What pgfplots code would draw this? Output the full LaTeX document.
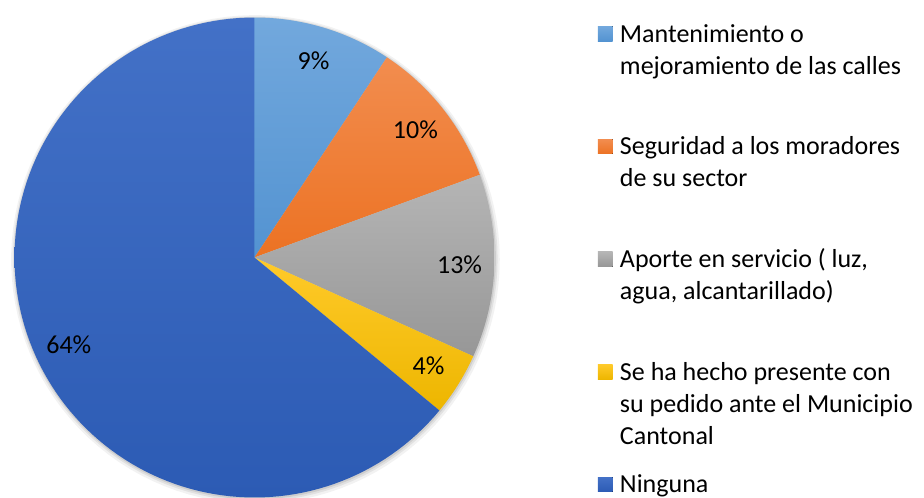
\documentclass[border=0pt]{standalone}
\usepackage{fontspec}
\setmainfont{Carlito}
\usepackage{pgfplots}
\pgfplotsset{compat=1.18}

\definecolor{lbT}{HTML}{72A8DD}\definecolor{lbB}{HTML}{5393D1}
\definecolor{orT}{HTML}{F28D4F}\definecolor{orB}{HTML}{EC7223}
\definecolor{grT}{HTML}{B5B5B5}\definecolor{grB}{HTML}{979797}
\definecolor{yeT}{HTML}{FFCA2A}\definecolor{yeB}{HTML}{EDB600}
\definecolor{blT}{HTML}{4371C7}\definecolor{blB}{HTML}{2C5BB4}

\newcommand\pfont{\fontsize{26bp}{32bp}\selectfont}
\gdef\cum{0}
% #1 value (percent), #2 top colour, #3 bottom colour, #4 label
\newcommand\pieslice[4]{%
  \pgfmathsetmacro\aS{90-3.6*(\cum)}%
  \pgfmathsetmacro\aE{90-3.6*(\cum+#1)}%
  \pgfmathsetmacro\aM{90-3.6*(\cum+#1/2)}%
  \pgfmathsetmacro\lx{0.855*cos(\aM)}%
  \pgfmathsetmacro\ly{0.855*sin(\aM)}%
  \pgfmathsetmacro\newcum{\cum+#1}\xdef\cum{\newcum}%
  \edef\doslice{%
    \noexpand\addplot[draw=none, top color=#2, bottom color=#3, domain=\aE:\aS, samples=120]
      ({cos(x)},{sin(x)}) -- (axis cs:0,0) -- cycle;%
    \noexpand\node[font=\noexpand\pfont, text=black, inner sep=0pt] at (axis cs:\lx,\ly) {#4};%
  }\doslice
}
\newcommand\legtext[1]{\parbox[t]{330bp}{\rule{0pt}{22bp}#1}}

\begin{document}
\begin{tikzpicture}
\path[use as bounding box] (-254.5bp,-240.5bp) rectangle (669.5bp,257.5bp);
\begin{axis}[
  at={(0,0)}, anchor=center,
  scale only axis, width=480bp, height=480bp,
  xmin=-1, xmax=1, ymin=-1, ymax=1,
  hide axis, clip=false,
  legend style={at={(1.2156,0.9944)}, anchor=north west, draw=none, fill=none,
    inner sep=0pt, outer sep=0pt, row sep=89.2bp, column sep=7.3bp,
    font=\pfont, cells={anchor=base west}, nodes={inner sep=0pt, outer sep=0pt}},
  legend image code/.code={\fill[#1] (0bp,1bp) rectangle (14.7bp,15.7bp);},
]
% soft shadow
\addplot[forget plot, draw=none, fill=black, opacity=0.05, domain=0:360, samples=120] ({1.018*cos(x)+0.004},{1.018*sin(x)-0.008});
\addplot[forget plot, draw=none, fill=black, opacity=0.07, domain=0:360, samples=120] ({1.010*cos(x)+0.003},{1.010*sin(x)-0.006});
\addplot[forget plot, draw=none, fill=black, opacity=0.09, domain=0:360, samples=120] ({1.004*cos(x)+0.002},{1.004*sin(x)-0.004});

\pieslice{9.3}{lbT}{lbB}{9\%}
\addlegendentry{\legtext{Mantenimiento o\\mejoramiento de las calles}}
\pieslice{10.1}{orT}{orB}{10\%}
\addlegendentry{\legtext{Seguridad a los moradores\\de su sector}}
\pieslice{12.35}{grT}{grB}{13\%}
\addlegendentry{\legtext{Aporte en servicio ( luz,\\agua, alcantarillado)}}
\pieslice{4.25}{yeT}{yeB}{4\%}
\addlegendentry{\legtext{Se ha hecho presente con\\su pedido ante el Municipio\\Cantonal}}
\pieslice{64.0}{blT}{blB}{64\%}
\addlegendentry{\legtext{Ninguna}}
\end{axis}
\end{tikzpicture}
\end{document}
